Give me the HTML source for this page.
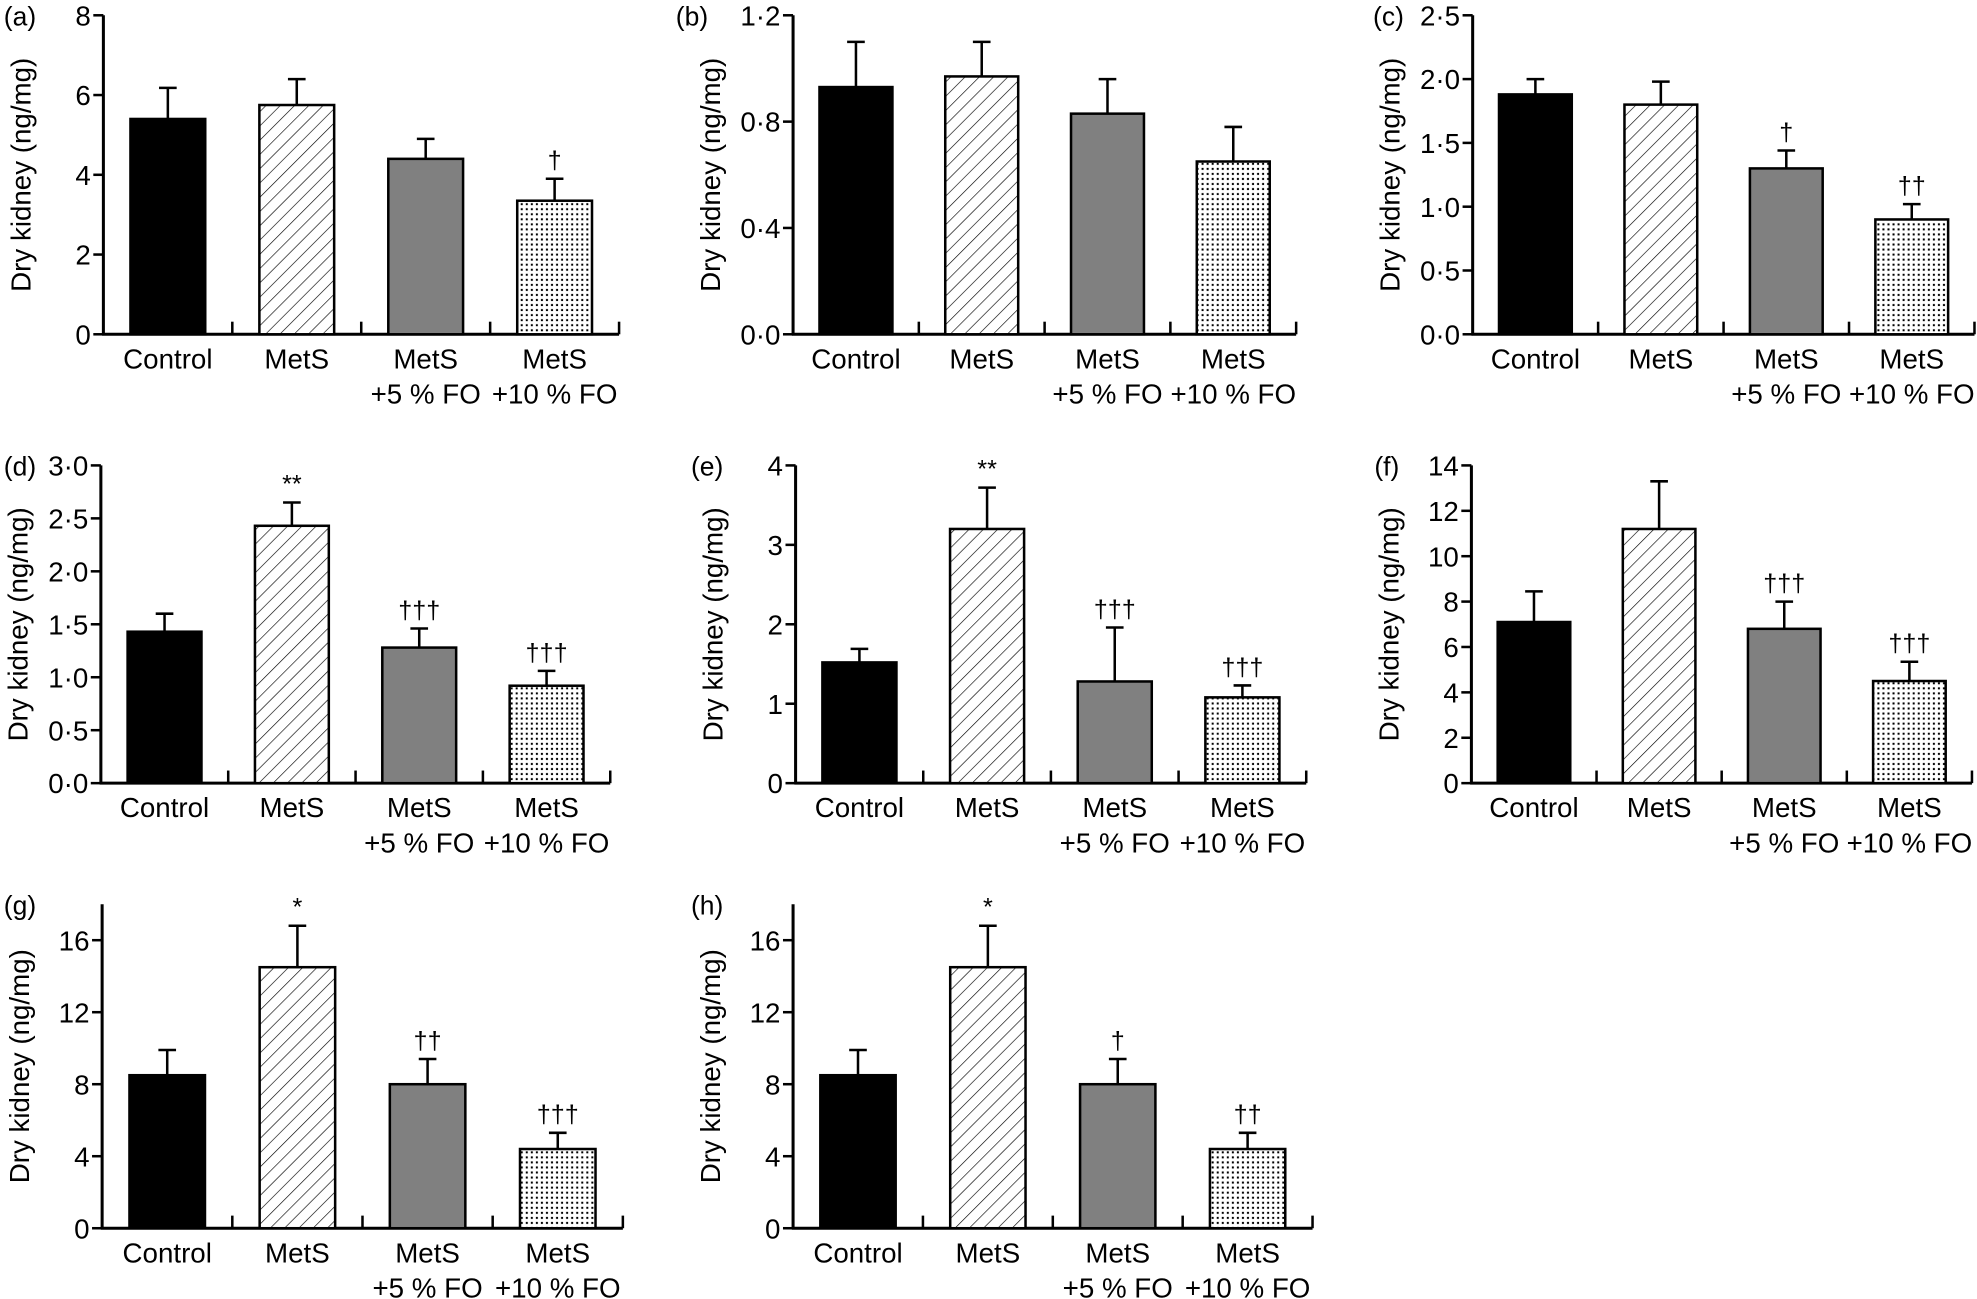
<!DOCTYPE html>
<html><head><meta charset="utf-8">
<style>html,body{margin:0;padding:0;background:#fff}svg{display:block}text{font-family:"Liberation Sans",Arial,sans-serif;fill:#000}</style>
</head><body>
<svg id="s" width="1977" height="1299" viewBox="0 0 1568 1030" xmlns="http://www.w3.org/2000/svg">
<defs>
<pattern id="hatch" width="8" height="8" patternUnits="userSpaceOnUse" patternTransform="rotate(45)">
<rect width="8" height="8" fill="#fff"/><line x1="0" y1="0" x2="0" y2="8" stroke="#000" stroke-width="1"/></pattern>
<pattern id="dots" width="4" height="4" patternUnits="userSpaceOnUse">
<rect width="4" height="4" fill="#fff"/><rect x="1" y="1" width="1.6" height="1.6" fill="#000"/></pattern>
</defs>
<g id="g"></g>
</svg>
<script>
var panels=[
{l:"(a)",lx:3,ax:82,w:409,top:12,bot:265,max:8,ticks:[0,2,4,6,8],fmt:0,d:[[5.4,.78],[5.75,.65],[4.4,.5],[3.35,.55]],m:["","","","†"]},
{l:"(b)",lx:536,ax:629,w:399,top:12,bot:265,max:1.2,ticks:[0,.4,.8,1.2],fmt:1,d:[[.93,.17],[.97,.13],[.83,.13],[.65,.13]],m:["","","",""]},
{l:"(c)",lx:1089,ax:1168,w:398,top:12,bot:265,max:2.5,ticks:[0,.5,1,1.5,2,2.5],fmt:1,d:[[1.88,.12],[1.8,.18],[1.3,.14],[.9,.12]],m:["","","†","††"]},
{l:"(d)",lx:3,ax:80,w:404,top:369,bot:621,max:3,ticks:[0,.5,1,1.5,2,2.5,3],fmt:1,d:[[1.43,.17],[2.43,.22],[1.28,.18],[.92,.14]],m:["","**","†††","†††"]},
{l:"(e)",lx:548,ax:631,w:405,top:369,bot:621,max:4,ticks:[0,1,2,3,4],fmt:0,d:[[1.52,.17],[3.2,.52],[1.28,.68],[1.08,.15]],m:["","**","†††","†††"]},
{l:"(f)",lx:1090,ax:1167,w:397,top:369,bot:621,max:14,ticks:[0,2,4,6,8,10,12,14],fmt:0,d:[[7.1,1.35],[11.2,2.1],[6.8,1.2],[4.5,.85]],m:["","","†††","†††"]},
{l:"(g)",lx:3,ax:81,w:413,top:717,bot:974,max:18,ticks:[0,4,8,12,16],fmt:0,d:[[8.5,1.4],[14.5,2.3],[8.0,1.4],[4.4,.9]],m:["","*","††","†††"]},
{l:"(h)",lx:548,ax:629,w:412,top:717,bot:974,max:18,ticks:[0,4,8,12,16],fmt:0,d:[[8.5,1.4],[14.5,2.3],[8.0,1.4],[4.4,.9]],m:["","*","†","††"]}
];
var fills=["#000","url(#hatch)","#808080","url(#dots)"];
var labs=[["Control"],["MetS"],["MetS","+5 % FO"],["MetS","+10 % FO"]];
var h="";
panels.forEach(function(p){
 var sc=(p.bot-p.top)/p.max,cw=p.w/4;
 function Y(v){return p.bot-v*sc;}
 h+='<text x="'+p.lx+'" y="'+(p.top+8)+'" font-size="21">'+p.l+'</text>';
 var cy=(p.top+p.bot)/2;
 h+='<text transform="translate('+(p.ax-58)+','+cy+') rotate(-90)" text-anchor="middle" font-size="22">Dry kidney (ng/mg)</text>';
 h+='<line x1="'+p.ax+'" y1="'+p.top+'" x2="'+p.ax+'" y2="'+p.bot+'" stroke="#000" stroke-width="2.4"/>';
 h+='<line x1="'+(p.ax-1)+'" y1="'+p.bot+'" x2="'+(p.ax+p.w)+'" y2="'+p.bot+'" stroke="#000" stroke-width="2.4"/>';
 p.ticks.forEach(function(t){var y=Y(t);
  h+='<line x1="'+(p.ax-8)+'" y1="'+y+'" x2="'+p.ax+'" y2="'+y+'" stroke="#000" stroke-width="2"/>';
  var s=p.fmt?t.toFixed(1).replace(".","·"):String(t);
  h+='<text x="'+(p.ax-10)+'" y="'+(y+8)+'" text-anchor="end" font-size="22">'+s+'</text>';});
 for(var i=1;i<=4;i++){var x=p.ax+cw*i;h+='<line x1="'+x+'" y1="'+(p.bot-10)+'" x2="'+x+'" y2="'+p.bot+'" stroke="#000" stroke-width="2"/>';}
 p.d.forEach(function(d,i){
  var x0=p.ax+cw*i+cw*0.21,bw=cw*0.58,yt=Y(d[0]),ye=Y(d[0]+d[1]),xc=x0+bw/2;
  h+='<line x1="'+xc+'" y1="'+yt+'" x2="'+xc+'" y2="'+ye+'" stroke="#000" stroke-width="2"/>';
  h+='<line x1="'+(xc-7)+'" y1="'+ye+'" x2="'+(xc+7)+'" y2="'+ye+'" stroke="#000" stroke-width="2"/>';
  h+='<rect x="'+x0+'" y="'+yt+'" width="'+bw+'" height="'+(p.bot-yt)+'" fill="'+fills[i]+'" stroke="#000" stroke-width="2"/>';
  if(p.m[i])h+='<text x="'+xc+'" y="'+(ye-8)+'" text-anchor="middle" font-size="20">'+p.m[i]+'</text>';
  var cx=p.ax+cw*i+cw/2;
  labs[i].forEach(function(t,k){h+='<text x="'+cx+'" y="'+(p.bot+27+k*28)+'" text-anchor="middle" font-size="22">'+t+'</text>';});
 });
});
document.getElementById("g").innerHTML=h;
</script>
</body></html>
